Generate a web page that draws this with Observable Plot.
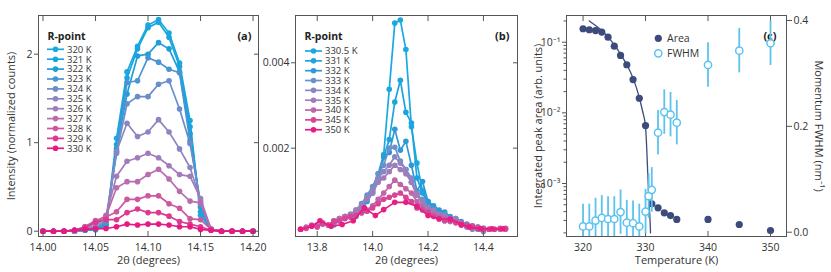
<!DOCTYPE html>
<html><head><meta charset="utf-8">
<script src="https://cdn.jsdelivr.net/npm/d3@7"></script>
<script src="https://cdn.jsdelivr.net/npm/@observablehq/plot@0.6"></script>
<style>
body{margin:0;background:#fff;}
#wrap{position:relative;width:831px;height:272px;overflow:hidden;background:#fff;}
#wrap > div{position:absolute;top:0;height:272px;}
</style></head><body>
<div id="wrap">
  <div id="pa" style="left:0;width:270px"></div>
  <div id="pb" style="left:270px;width:270px"></div>
  <div id="pc1" style="left:528px;width:303px"></div>
  <div id="pc2" style="left:528px;width:303px"></div>
</div>
<script>
const FONT = '"Open Sans", sans-serif';

// ---------- Panel (a) ----------
const xA = [14.00,14.01,14.02,14.03,14.04,14.05,14.06,14.07,14.08,14.09,14.10,14.11,14.12,14.13,14.14,14.15,14.16,14.17,14.18,14.19,14.20];
const tempsA = ["320 K","321 K","322 K","323 K","324 K","325 K","326 K","327 K","328 K","329 K","330 K"];
const a320 = [0,0,0,0,0.01,0.02,0.06,1.05,1.80,2.09,2.33,2.39,2.24,1.90,1.25,0.18,0.02,0,0,0,0];
const a321 = [0,0,0,0,0.01,0.02,0.07,0.98,1.73,2.06,2.30,2.36,2.19,1.86,1.18,0.22,0.02,0,0,0,0];
const a322 = [0,0,0,0,0.01,0.02,0.08,0.93,1.55,1.98,2.00,2.13,2.06,1.80,1.10,0.27,0.02,0,0,0,0];
const a323 = [0,0,0,0,0.01,0.03,0.10,0.90,1.68,1.70,1.96,1.91,1.83,1.79,1.02,0.30,0.02,0,0,0,0];
const a324 = [0,0,0,0,0.02,0.04,0.12,0.88,1.44,1.52,1.52,1.66,1.70,1.38,0.99,0.33,0.02,0,0,0,0];
const a325 = [0,0,0,0.01,0.03,0.06,0.15,0.90,1.22,1.07,1.12,1.26,1.12,0.93,0.72,0.35,0.02,0,0,0,0];
const a326 = [0,0,0,0.01,0.04,0.09,0.18,0.62,0.79,0.83,0.88,0.83,0.74,0.64,0.62,0.37,0.02,0,0,0,0];
const a327 = [0,0,0,0.01,0.05,0.11,0.17,0.49,0.56,0.56,0.64,0.70,0.59,0.45,0.34,0.32,0.02,0,0,0,0];
const a328 = [0,0,0,0.01,0.05,0.12,0.16,0.22,0.36,0.36,0.40,0.40,0.31,0.26,0.14,0.13,0.02,0,0,0,0];
const a329 = [0,0,0,0.01,0.04,0.10,0.13,0.13,0.21,0.25,0.21,0.21,0.17,0.11,0.08,0.05,0.01,0,0,0,0];
const a330 = [0,0,0,0.01,0.02,0.03,0.03,0.05,0.08,0.07,0.08,0.08,0.07,0.05,0.05,0.02,0.01,0,0,0,0];
const seriesA = [a320,a321,a322,a323,a324,a325,a326,a327,a328,a329,a330];
const colorsA = ["#18a9e2","#1aa5df","#1f9fda","#4994d1","#6b8dca","#8b86c2","#a17cba","#b86dae","#cc58a0","#dc3a91","#e61a82"];
const xTicksA = [14.00,14.05,14.10,14.15,14.20];
const yTicksA = [0,1,2];

// ---------- Panel (b) ----------
const tempsB = ["330.5 K","331 K","332 K","333 K","334 K","335 K","340 K","345 K","350 K"];
const xB1 = [13.94,13.96,13.98,14.00,14.02,14.04,14.06,14.08,14.10,14.12,14.14,14.16,14.18,14.20,14.22,14.24,14.26,14.28,14.30,14.32,14.34,14.36,14.38,14.40];
const xB2 = [13.86,13.88,13.90,13.92,13.94,13.96,13.98,14.00,14.02,14.04,14.06,14.08,14.10,14.12,14.14,14.16,14.18,14.20,14.22,14.24,14.26,14.28,14.30,14.32,14.34,14.36,14.38,14.40];
const xB3 = [13.74,13.76,13.78,13.80,13.82,13.84,13.86,13.88,13.90,13.92,13.94,13.96,13.98,14.00,14.02,14.04,14.06,14.08,14.10,14.12,14.14,14.16,14.18,14.20,14.22,14.24,14.26,14.28,14.30,14.32,14.34,14.36,14.38,14.40,14.42,14.44,14.46,14.48];
const xB4 = [13.74,13.78,13.81,13.85,13.89,13.93,13.97,14.01,14.04,14.08,14.12,14.16,14.20,14.24,14.28,14.32,14.35,14.39,14.43,14.47];
const b3305 = [0.00045,0.00060,0.00085,0.00105,0.00140,0.00185,0.00338,0.00493,0.00500,0.00431,0.00250,0.00165,0.00100,0.00075,0.00060,0.00050,0.00042,0.00038,0.00030,0.00025,0.00020,0.00015,0.00010,0.00008];
const b331 = [0.00040,0.00055,0.00075,0.00095,0.00125,0.00180,0.00220,0.00308,0.00359,0.00284,0.00259,0.00130,0.00095,0.00070,0.00055,0.00048,0.00040,0.00035,0.00030,0.00025,0.00020,0.00015,0.00012,0.00010];
const b332 = [0.00050,0.00060,0.00080,0.00100,0.00130,0.00180,0.00190,0.00244,0.00195,0.00216,0.00160,0.00100,0.00122,0.00075,0.00065,0.00055,0.00050,0.00040,0.00035,0.00028,0.00022,0.00018,0.00015,0.00012];
const b333 = [0.00020,0.00030,0.00035,0.00045,0.00055,0.00070,0.00090,0.00110,0.00140,0.00160,0.00200,0.00202,0.00170,0.00150,0.00120,0.00090,0.00080,0.00060,0.00050,0.00040,0.00045,0.00035,0.00030,0.00025,0.00020,0.00015,0.00012,0.00010];
const b334 = [0.00025,0.00030,0.00040,0.00040,0.00050,0.00060,0.00085,0.00100,0.00130,0.00145,0.00160,0.00180,0.00165,0.00150,0.00130,0.00095,0.00075,0.00060,0.00045,0.00040,0.00030,0.00028,0.00035,0.00020,0.00015,0.00010,0.00010,0.00005];
const b335 = [0.00030,0.00035,0.00040,0.00045,0.00055,0.00065,0.00080,0.00095,0.00120,0.00130,0.00145,0.00160,0.00150,0.00140,0.00120,0.00090,0.00070,0.00060,0.00055,0.00045,0.00040,0.00035,0.00030,0.00025,0.00020,0.00015,0.00010,0.00008];
const b340 = [0.00010,0.00015,0.00020,0.00018,0.00025,0.00020,0.00030,0.00035,0.00040,0.00038,0.00045,0.00050,0.00055,0.00065,0.00080,0.00095,0.00110,0.00125,0.00115,0.00105,0.00095,0.00075,0.00060,0.00050,0.00045,0.00040,0.00035,0.00032,0.00028,0.00025,0.00020,0.00018,0.00015,0.00012,0.00010,0.00010,0.00010,0.00010];
const b345 = [0.00010,0.00012,0.00018,0.00015,0.00022,0.00020,0.00028,0.00030,0.00035,0.00040,0.00042,0.00048,0.00052,0.00060,0.00070,0.00080,0.00085,0.00090,0.00095,0.00085,0.00075,0.00060,0.00055,0.00050,0.00040,0.00035,0.00030,0.00030,0.00025,0.00020,0.00018,0.00015,0.00012,0.00010,0.00010,0.00010,0.00012,0.00012];
const b350 = [0.00010,0.00017,0.00030,0.00017,0.00021,0.00030,0.00060,0.00042,0.00056,0.00073,0.00073,0.00064,0.00042,0.00034,0.00034,0.00021,0.00015,0.00011,0.00011,0.00011];
const seriesB = [[xB1,b3305],[xB1,b331],[xB1,b332],[xB2,b333],[xB2,b334],[xB2,b335],[xB3,b340],[xB3,b345],[xB4,b350]];
const colorsB = ["#18a9e2","#1ba4de","#2d9ad6","#6e8fcb","#8b86c2","#a07dba","#c065a6","#d64596","#e61e84"];
const xTicksB = [13.8,14.0,14.2,14.4];
const yTicksB = [0.002,0.004];

// ---------- Panel (c) ----------
const tempArea = [320,321,322,323,324,325,326,327,328,329,330,331,332,333,334,335,340,345,350];
const area = [0.155,0.150,0.146,0.139,0.118,0.088,0.065,0.048,0.0296,0.0161,0.0066,0.000515,0.000453,0.000385,0.000352,0.00031,0.00031,0.000263,0.000216];
const fitT = [321,322,323,324,325,326,327,328,329,329.5,330,330.2,330.4,330.55,330.7,330.8];
const fitArea = [0.20,0.172,0.146,0.118,0.092,0.068,0.048,0.031,0.0165,0.0108,0.0064,0.0030,0.0011,0.00058,0.00033,0.00020];
const tempFwhm = [320,321,322,323,324,325,326,327,328,329,330,330.5,331,332,333,334,335,340,345,350];
const fwhm = [0.011,0.011,0.022,0.027,0.025,0.025,0.038,0.018,0.017,0.011,0.039,0.068,0.080,0.188,0.227,0.222,0.207,0.316,0.343,0.357];
const fwhmErr = [0.042,0.042,0.042,0.042,0.042,0.042,0.042,0.042,0.042,0.042,0.042,0.042,0.042,0.042,0.042,0.042,0.042,0.042,0.042,0.042];
const xTicksC = [320,330,340,350];
const yTicksC = [1e-3,1e-2,1e-1];
const yMinorC = [2e-4,3e-4,4e-4,5e-4,6e-4,7e-4,8e-4,9e-4,2e-3,3e-3,4e-3,5e-3,6e-3,7e-3,8e-3,9e-3,2e-2,3e-2,4e-2,5e-2,6e-2,7e-2,8e-2,9e-2,2e-1];
const yTicksC2 = [0,0.2,0.4];
const supLabels = {"0.001":"10\u207B\u00B3","0.01":"10\u207B\u00B2","0.1":"10\u207B\u00B9"};

const navy = "#3d4a7c", light = "#5cc3ee", frameC = "#555", textC = "#333";
const baseStyle = {fontFamily: FONT, fontSize: "10.5px", color: textC, background: "transparent", overflow: "visible"};

function legend(svg, x0, y0, dy, labels, colors) {
  const g = d3.select(svg).append("g").attr("text-anchor", "start");
  labels.forEach((t, i) => {
    const y = y0 + i * dy;
    g.append("line").attr("x1", x0).attr("x2", x0 + 17).attr("y1", y).attr("y2", y).attr("stroke", colors[i]).attr("stroke-width", 1.7);
    g.append("circle").attr("cx", x0 + 8.5).attr("cy", y).attr("r", 2.8).attr("fill", colors[i]);
    g.append("text").attr("x", x0 + 20).attr("y", y).attr("dy", "0.35em").attr("text-anchor", "start").attr("font-size", 9.5).attr("fill", textC).text(t);
  });
}

function seriesMarks(xs, ys, color) {
  const rows = ys.map((v, i) => ({x: xs[i], y: v}));
  return [
    Plot.line(rows, {x: "x", y: "y", stroke: color, strokeWidth: 1.7}),
    Plot.dot(rows, {x: "x", y: "y", fill: color, r: 2.8})
  ];
}

// Panel a plot
const pa = Plot.plot({
  width: 270, height: 272, marginLeft: 38, marginRight: 12, marginTop: 15, marginBottom: 36,
  style: baseStyle,
  x: {domain: [13.9957, 14.2052], axis: null},
  y: {domain: [-0.06, 2.437], axis: null},
  marks: [
    ...seriesA.flatMap((s, k) => seriesMarks(xA, s, colorsA[k])),
    Plot.frame({stroke: frameC}),
    Plot.axisX({ticks: xTicksA, tickSize: -5, tickPadding: 12, tickFormat: d3.format(".2f"), label: null, stroke: frameC}),
    Plot.axisX({anchor: "top", ticks: xTicksA, tickSize: -5, tickFormat: () => "", label: null, stroke: frameC}),
    Plot.axisY({ticks: yTicksA, tickSize: 4, tickPadding: 2, tickFormat: d3.format("d"), label: null, stroke: frameC}),
    Plot.axisY({anchor: "right", ticks: yTicksA, tickSize: -5, tickFormat: () => "", label: null, stroke: frameC}),
    Plot.text(["2\u03B8 (degrees)"], {frameAnchor: "bottom", dy: 27, fontSize: 11, fill: textC}),
    Plot.text(["Intensity (normalized counts)"], {frameAnchor: "left", rotate: -90, dx: -27, textAnchor: "middle", fontSize: 11, fill: textC}),
    Plot.text(["R-point"], {frameAnchor: "top-left", dx: 9, dy: 17, fontWeight: "bold", fontSize: 10.5, fill: "#222", textAnchor: "start"}),
    Plot.text(["(a)"], {frameAnchor: "top-right", dx: -7, dy: 17, fontWeight: "bold", fontSize: 11, fill: "#222", textAnchor: "end"})
  ]
});
legend(pa, 47, 49.3, 9.9, tempsA, colorsA);
document.getElementById("pa").append(pa);

// Panel b plot
const pb = Plot.plot({
  width: 270, height: 272, marginLeft: 25, marginRight: 23, marginTop: 15, marginBottom: 36,
  style: baseStyle,
  x: {domain: [13.7216, 14.5229], axis: null},
  y: {domain: [-0.00007, 0.005108], axis: null},
  marks: [
    ...seriesB.flatMap(([xs, ys], k) => seriesMarks(xs, ys, colorsB[k])),
    Plot.frame({stroke: frameC}),
    Plot.axisX({ticks: xTicksB, tickSize: -5, tickPadding: 12, tickFormat: d3.format(".1f"), label: null, stroke: frameC}),
    Plot.axisX({anchor: "top", ticks: xTicksB, tickSize: -5, tickFormat: () => "", label: null, stroke: frameC}),
    Plot.axisY({ticks: yTicksB, tickSize: 4, tickPadding: 2, tickFormat: d3.format(".3f"), label: null, stroke: frameC}),
    Plot.axisY({anchor: "right", ticks: yTicksB, tickSize: -5, tickFormat: () => "", label: null, stroke: frameC}),
    Plot.text(["2\u03B8 (degrees)"], {frameAnchor: "bottom", dy: 27, fontSize: 11, fill: textC}),
    Plot.text(["R-point"], {frameAnchor: "top-left", dx: 9, dy: 17, fontWeight: "bold", fontSize: 10.5, fill: "#222", textAnchor: "start"}),
    Plot.text(["(b)"], {frameAnchor: "top-right", dx: -8, dy: 17, fontWeight: "bold", fontSize: 11, fill: "#222", textAnchor: "end"})
  ]
});
legend(pb, 305 - 270, 51, 9.84, tempsB, colorsB);
document.getElementById("pb").append(pb);

// Panel c: area (log, left)
const areaRows = tempArea.map((t, i) => ({t, v: area[i]}));
const fitRows = fitT.map((t, i) => ({t, v: fitArea[i]}));
const pc1 = Plot.plot({
  width: 303, height: 272, marginLeft: 38, marginRight: 45, marginTop: 15, marginBottom: 36,
  style: baseStyle,
  x: {domain: [317.35, 352.56], axis: null},
  y: {type: "log", domain: [1.778e-4, 0.2388], axis: null},
  marks: [
    Plot.line(fitRows, {x: "t", y: "v", stroke: navy, strokeWidth: 1.3, curve: "monotone-x", clip: true}),
    Plot.dot(areaRows, {x: "t", y: "v", fill: navy, r: 3.6}),
    Plot.frame({stroke: frameC}),
    Plot.axisX({ticks: xTicksC, tickSize: -5, tickPadding: 12, tickFormat: d3.format("d"), label: null, stroke: frameC}),
    Plot.axisX({anchor: "top", ticks: xTicksC, tickSize: -5, tickFormat: () => "", label: null, stroke: frameC}),
    Plot.axisY({ticks: yTicksC, tickSize: 4, tickPadding: 2, tickFormat: d => supLabels[String(d)], label: null, stroke: frameC}),
    Plot.axisY({ticks: yMinorC, tickSize: 2.5, tickFormat: () => "", label: null, stroke: frameC}),
    Plot.text(["Temperature (K)"], {frameAnchor: "bottom", dy: 27, fontSize: 11, fill: textC}),
    Plot.text(["Integrated peak area (arb. units)"], {frameAnchor: "left", rotate: -90, dx: -28, textAnchor: "middle", fontSize: 11, fill: textC}),
    Plot.text(["(c)"], {frameAnchor: "top-right", dx: -10, dy: 17, fontWeight: "bold", fontSize: 11, fill: "#222", textAnchor: "end"})
  ]
});
document.getElementById("pc1").append(pc1);

// Panel c: FWHM (linear, right)
const fwRows = tempFwhm.map((t, i) => ({t, v: fwhm[i], lo: fwhm[i] - fwhmErr[i], hi: fwhm[i] + fwhmErr[i]}));
const pc2 = Plot.plot({
  width: 303, height: 272, marginLeft: 38, marginRight: 45, marginTop: 15, marginBottom: 36,
  style: baseStyle,
  x: {domain: [317.35, 352.56], axis: null},
  y: {domain: [-0.0081, 0.4094], axis: null},
  marks: [
    Plot.ruleX(fwRows, {x: "t", y1: "lo", y2: "hi", stroke: light, strokeWidth: 1.8, clip: true}),
    Plot.dot(fwRows, {x: "t", y: "v", fill: "white", stroke: light, strokeWidth: 1.5, r: 3.6}),
    Plot.axisY({anchor: "right", ticks: yTicksC2, tickSize: 5, tickPadding: 2, tickFormat: d3.format(".1f"), label: null, stroke: frameC}),
    Plot.text(["Momentum FWHM (nm\u207B\u00B9)"], {frameAnchor: "right", rotate: 90, dx: 32, textAnchor: "middle", fontSize: 11, fill: textC})
  ]
});
{
  const g = d3.select(pc2).append("g").attr("text-anchor", "start");
  g.append("circle").attr("cx", 658.3 - 528).attr("cy", 38.3).attr("r", 3.6).attr("fill", navy);
  g.append("text").attr("x", 667 - 528).attr("y", 38.3).attr("dy", "0.35em").attr("text-anchor", "start").attr("font-size", 10.5).attr("fill", textC).text("Area");
  g.append("circle").attr("cx", 658.3 - 528).attr("cy", 53.3).attr("r", 3.6).attr("fill", "white").attr("stroke", light).attr("stroke-width", 1.5);
  g.append("text").attr("x", 667 - 528).attr("y", 53.3).attr("dy", "0.35em").attr("text-anchor", "start").attr("font-size", 10.5).attr("fill", textC).text("FWHM");
}
document.getElementById("pc2").append(pc2);
</script>
</body></html>
